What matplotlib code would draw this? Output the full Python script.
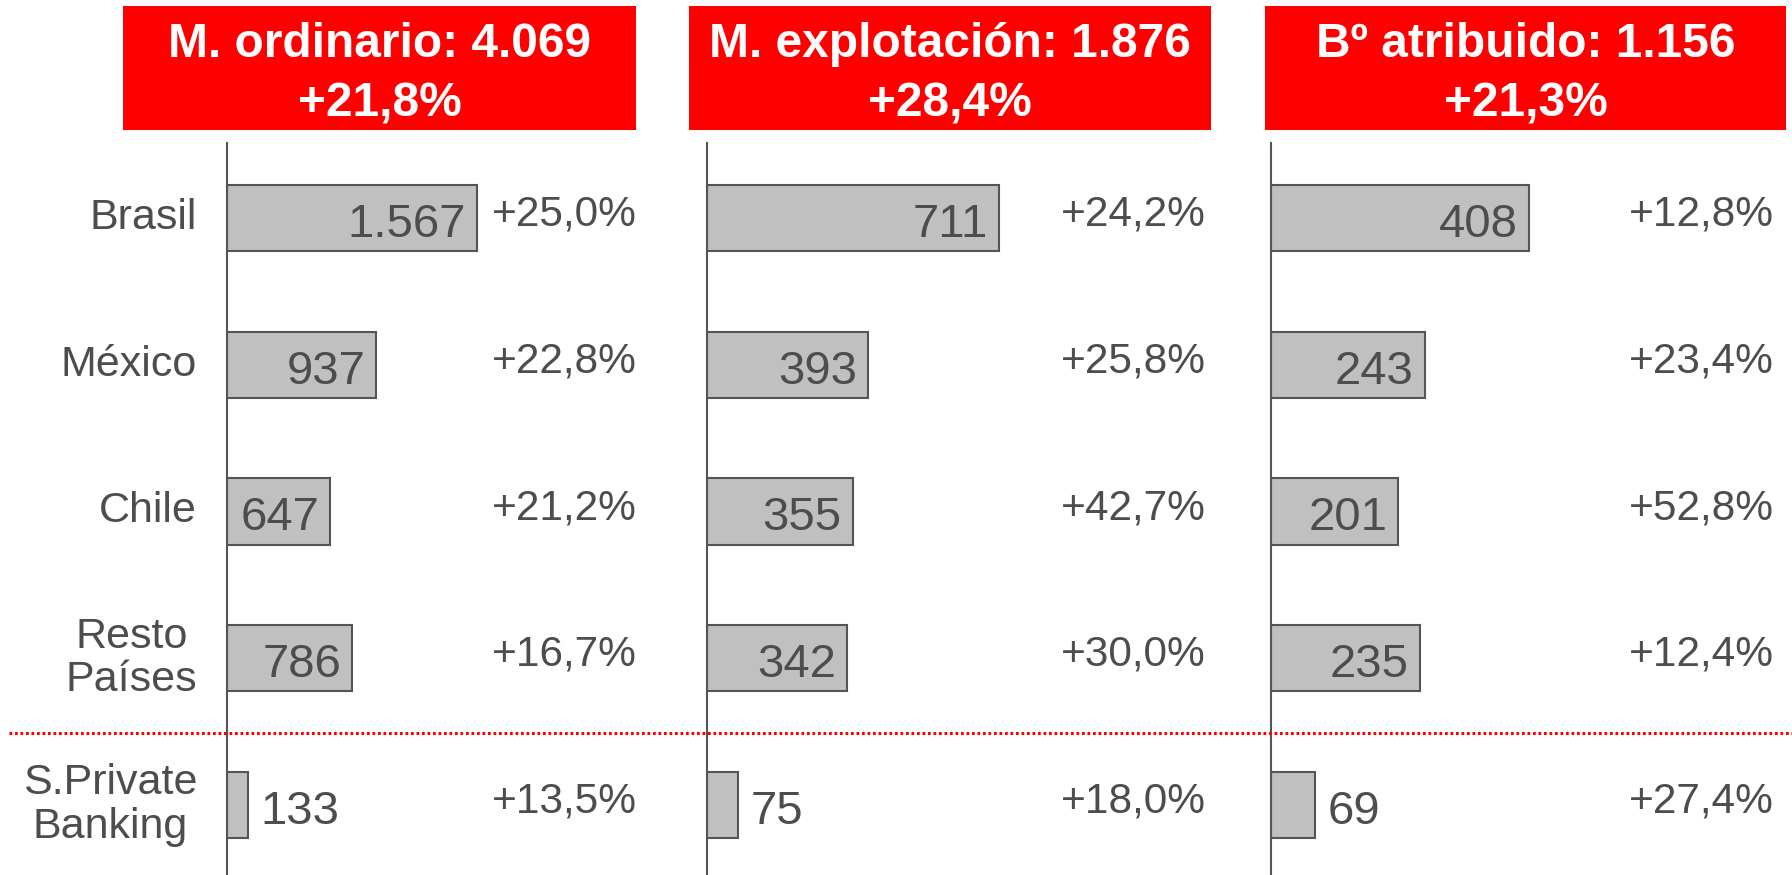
import matplotlib
matplotlib.use("Agg")
import matplotlib.pyplot as plt
from matplotlib.patches import Rectangle
from matplotlib.lines import Line2D

plt.rcParams['font.family'] = ['Liberation Sans', 'DejaVu Sans']

# --- data ---
categories = ['Brasil', 'México', 'Chile', 'Resto\nPaíses', 'S.Private\nBanking']
margen_ordinario = [1567, 937, 647, 786, 133]
margen_explotacion = [711, 393, 355, 342, 75]
bo_atribuido = [408, 243, 201, 235, 69]
var_ordinario = ['+25,0%', '+22,8%', '+21,2%', '+16,7%', '+13,5%']
var_explotacion = ['+24,2%', '+25,8%', '+42,7%', '+30,0%', '+18,0%']
var_atribuido = ['+12,8%', '+23,4%', '+52,8%', '+12,4%', '+27,4%']
titles = ['M. ordinario', 'M. explotación', 'Bº atribuido']
totals = ['4.069', '1.876', '1.156']
total_growth = ['+21,8%', '+28,4%', '+21,3%']

W, H = 1792, 875
TEXT = '#4d4d4d'
RED = '#ff0000'

fig = plt.figure(figsize=(W / 100, H / 100), dpi=100)


def px_axes(left, top, right, bottom):
    return fig.add_axes([left / W, 1 - bottom / H, (right - left) / W, (bottom - top) / H])


def fmt(v):
    return f"{v:,}".replace(',', '.')


# panel layout in pixels: axis line x, right edge, title box x-range, xlim
panels = [
    dict(vals=margen_ordinario, var=var_ordinario, left=227, right=637, box=(123, 636), xmax=2570),
    dict(vals=margen_explotacion, var=var_explotacion, left=707, right=1206, box=(689, 1211), xmax=1215),
    dict(vals=bo_atribuido, var=var_atribuido, left=1271, right=1774, box=(1265, 1786), xmax=795),
]

rows = list(range(len(categories)))
FS_VAL = 34
FS_PCT = 30.5
FS_CAT = 31

for i, p in enumerate(panels):
    ax = px_axes(p['left'], 143, p['right'], 875)
    ax.barh(rows, p['vals'], height=0.45, color='#c0c0c0', edgecolor='#555555', linewidth=1.5, zorder=2)
    ax.set_xlim(0, p['xmax'])
    ax.set_ylim(4.477, -0.511)
    for s in ['top', 'right', 'bottom']:
        ax.spines[s].set_visible(False)
    ax.spines['left'].set_color('#555555')
    ax.spines['left'].set_linewidth(1.5)
    ax.set_xticks([])
    ax.set_yticks([])
    ax.patch.set_alpha(0)

    for r, v, g in zip(rows, p['vals'], p['var']):
        if v / p['xmax'] > 0.15:
            ax.annotate(fmt(v), xy=(v, r), xytext=(-8, -5), textcoords='offset points',
                        ha='right', va='center', fontsize=FS_VAL, color=TEXT, zorder=3)
        else:
            ax.annotate(fmt(v), xy=(v, r), xytext=(9, -5), textcoords='offset points',
                        ha='left', va='center', fontsize=FS_VAL, color=TEXT, zorder=3)
        ax.annotate(g, xy=(1, r), xycoords=ax.get_yaxis_transform(), xytext=(0, 2.5),
                    textcoords='offset points', ha='right', va='center', fontsize=FS_PCT, color=TEXT)

    if i == 0:
        for r, c in zip(rows, categories):
            ax.annotate(c, xy=(0, r), xytext=(-21.5, 0), textcoords='offset points',
                        ha='right', va='center', multialignment='center', fontsize=FS_CAT,
                        color=TEXT, linespacing=1.1, annotation_clip=False)

    # red title box
    x0, x1 = p['box']
    y0, y1 = 6, 130
    fig.add_artist(Rectangle((x0 / W, 1 - y1 / H), (x1 - x0) / W, (y1 - y0) / H,
                             transform=fig.transFigure, facecolor=RED, edgecolor='none'))
    fig.text((x0 + x1) / 2 / W, 1 - 74 / H,
             f"{titles[i]}: {totals[i]}\n{total_growth[i]}",
             ha='center', va='center', color='white', fontsize=34.5, fontweight='bold',
             linespacing=1.42)

# dotted red separator between countries and private banking
fig.add_artist(Line2D([9 / W, 1], [1 - 733 / H, 1 - 733 / H], transform=fig.transFigure,
                      color=RED, linewidth=2.2, linestyle=(0, (0.9, 0.9))))

fig.savefig('out.png', dpi=100)
